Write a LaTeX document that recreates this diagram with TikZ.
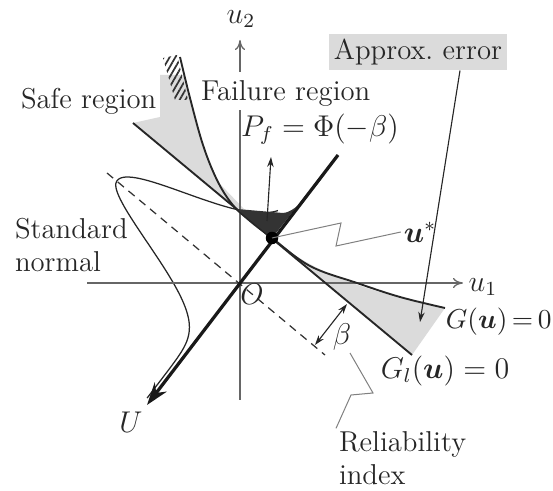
\documentclass[tikz,border=0pt]{standalone}
\usepackage{amsmath,bm}
\usetikzlibrary{arrows.meta,patterns.meta}
\begin{document}
\begin{tikzpicture}[x=0.4pt, y=-0.4pt,
    every node/.style={font=\fontsize{11.5}{13.2}\selectfont, inner sep=1pt, text=black!85},
    axis/.style={draw=black!60, line width=0.5pt},
    leader/.style={draw=black!50, line width=0.4pt},
    pointer/.style={-{Stealth[length=4pt,width=2.6pt]}, line width=0.45pt, draw=black!85},
    limit/.style={line width=0.75pt, draw=black!85},
    shade/.style={fill=black!14}]
  \useasboundingbox (0,0) rectangle (553,491);
  \coordinate (O) at (240,283);
  \coordinate (ustar) at (272,238);
  \coordinate (Utop) at (338,155);
  \coordinate (Utip) at (147,405);
  \coordinate (glA) at (133,123);
  \coordinate (glB) at (412,355);
  \coordinate (gEnd) at (445,308);
  \coordinate (dashA) at (107,173);
  \coordinate (dashB) at (325,355);
  % shaded regions
  \fill[shade] (glA) -- (160,117) -- (160,75) -- (184,75)
    .. controls (190,100) and (200,150) .. (220,184) -- (ustar) -- cycle;
  \fill[shade] (ustar) -- (glB) -- (gEnd)
    .. controls (390,296) and (320,280) .. (ustar);
  \fill[pattern={Lines[angle=60,distance=2pt,line width=0.7pt]}, pattern color=black!80]
    (163,58) -- (177,55) -- (188,100) -- (175,100) -- cycle;
  % standard normal density along U
  \draw[line width=0.5pt, black!85]
    plot[domain=80:0, samples=40, smooth]
      ({240+0.607*\x-0.769*(4+156*exp(-((\x/10)*(\x/10))/23.12))},
       {283-0.795*\x-0.639*(4+156*exp(-((\x/10)*(\x/10))/23.12))})
    -- plot[domain=0:-148, samples=50, smooth]
      ({240+0.607*\x-0.769*(4+156*exp(-((\x/10)*(\x/10))/15.68))},
       {283-0.795*\x-0.639*(4+156*exp(-((\x/10)*(\x/10))/15.68))});
  % axes
  \draw[axis, -{To[length=4pt,width=4pt]}] (87,283) -- (463,283);
  \draw[axis] (240,400) -- (240,110);
  \draw[axis, -{To[length=4pt,width=4pt]}] (240,72) -- (240,40);
  \draw[dashed, dash pattern=on 3.2pt off 2.4pt, line width=0.5pt, black!80] (dashA) -- (dashB);
  % limit state surfaces
  \draw[limit] (glA) -- (glB);
  \draw[limit] plot[smooth, tension=0.6] coordinates {(180,57) (190,98) (203,145) (217,180) (232,204) (250,221) (272,238) (310,266) (357,283) (400,297) (445,308)};
  % failure probability
  \fill[black!80] (237,209) -- (283,213) .. controls (298,212) and (318,185) .. (Utop)
    -- (ustar) -- cycle;
  \draw[line width=1.3pt, black!90, -{Stealth[length=9pt,width=6pt]}] (Utop) -- (Utip);
  \fill[black] (ustar) circle (2.5pt);
  % labels
  \node (u2lbl) at (241,19) {$u_2$};
  \node (u1lbl) at (483,287) {$u_1$};
  \node (olbl) at (252,294) {$O$};
  \node (Ulbl) at (131,422) {$U$};
  \node[anchor=west] (fail) at (198,93) {Failure region};
  \node[anchor=west] (safe) at (18,101) {Safe region};
  \node[anchor=west, align=left] (stdn) at (12,245) {Standard\\normal};
  \node[fill=black!14, inner xsep=2pt, inner ysep=2pt] (err) at (418,52) {Approx.\ error};
  \node (pflbl) at (320,129) {$P_f=\Phi(-\beta)$};
  \node (ulbl) at (420,232) {$\bm{u}^{*}$};
  \node (blbl) at (342,337) {$\beta$};
  \node[anchor=east, inner sep=0pt, font=\fontsize{10.5}{12}\selectfont] (glbl) at (552,322) {$G(\bm{u})\,{=}\,0$};
  \node (gllbl) at (445,371) {$G_l(\bm{u})=0$};
  \node[anchor=west, align=left] (rel) at (336,458) {Reliability\\index};
  % pointers and leaders
  \coordinate (errtip) at (420,322);
  \coordinate (pfbase) at (267,221);
  \coordinate (pftip) at (271,157);
  \coordinate (bA) at (347,304);
  \coordinate (bB) at (315,345);
  \draw[pointer] ([xshift=16.8pt]err.south) -- (errtip);
  \draw[pointer] (pfbase) -- (pftip);
  \draw[{Stealth[length=4pt,width=2.6pt]}-{Stealth[length=4pt,width=2.6pt]}, line width=0.45pt, black!85] (bA) -- (bB);
  \draw[leader] (ustar) -- (341,223) -- (336,246) -- (ulbl.west);
  \draw[leader] (350,353) -- (373,393) -- (351,395) -- (rel.north west);
\end{tikzpicture}
\end{document}
